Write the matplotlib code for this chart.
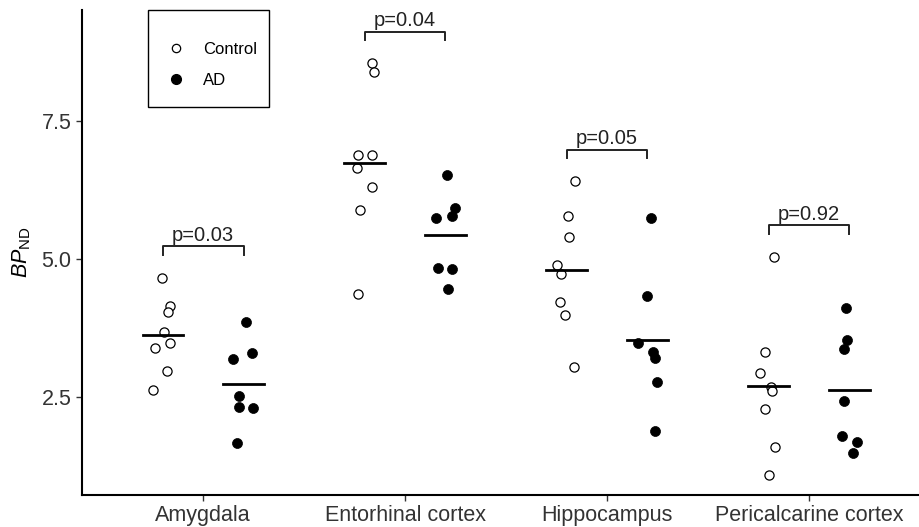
import matplotlib
matplotlib.use("Agg")
import matplotlib.pyplot as plt
from matplotlib.lines import Line2D
from matplotlib.patches import Rectangle
import numpy as np

plt.rcParams['font.family'] = ['Liberation Sans', 'DejaVu Sans']
plt.rcParams['mathtext.fontset'] = 'custom'
plt.rcParams['mathtext.rm'] = 'Liberation Sans'
plt.rcParams['mathtext.it'] = 'Liberation Sans:italic'

# regions and p-values
regions = ['Amygdala', 'Entorhinal cortex', 'Hippocampus', 'Pericalcarine cortex']
p_values = ['p=0.03', 'p=0.04', 'p=0.05', 'p=0.92']

# BPnd values
control = [
    [4.66, 4.14, 4.03, 3.67, 3.39, 3.48, 2.97, 2.63],
    [8.55, 8.39, 6.88, 6.88, 6.65, 6.30, 5.88, 4.37],
    [6.41, 5.78, 5.39, 4.89, 4.73, 4.22, 3.99, 3.05],
    [5.04, 3.32, 2.93, 2.68, 2.60, 2.28, 1.60, 1.09],
]
ad = [
    [3.85, 3.30, 3.18, 2.52, 2.31, 2.29, 1.66],
    [6.52, 5.93, 5.74, 5.77, 4.83, 4.82, 4.46],
    [5.75, 4.33, 3.47, 3.32, 3.20, 2.77, 1.89],
    [4.11, 3.53, 3.36, 2.43, 1.80, 1.69, 1.49],
]

# horizontal jitter of the points
control_jitter = [
    [-0.003, 0.034, 0.024, 0.005, -0.036, 0.037, 0.020, -0.050],
    [0.037, 0.045, -0.033, 0.034, -0.038, 0.034, -0.024, -0.033],
    [0.042, 0.009, 0.010, -0.049, -0.029, -0.031, -0.006, 0.039],
    [0.025, -0.016, -0.044, 0.014, 0.017, -0.016, 0.032, 0.000],
]
ad_jitter = [
    [0.010, 0.041, -0.051, -0.020, -0.020, 0.045, -0.030],
    [0.010, 0.046, -0.047, 0.030, -0.038, 0.033, 0.013],
    [0.016, 0.000, -0.045, 0.030, 0.036, 0.048, 0.036],
    [-0.015, -0.013, -0.028, -0.027, -0.037, 0.038, 0.018],
]

fig = plt.figure(figsize=(9.19, 5.27), dpi=100)
ax = fig.add_axes([0.0892, 0.061, 0.9108, 0.92])

off = 0.2
for i in range(len(regions)):
    x = i + 1
    xc = x - off + np.array(control_jitter[i])
    xa = x + off + np.array(ad_jitter[i])
    ax.plot(xc, control[i], 'o', ms=6.6, mfc='white', mec='black', mew=0.9, zorder=3)
    ax.plot(xa, ad[i], 'o', ms=7.2, mfc='black', mec='black', mew=0.5, zorder=3)
    # group means
    ax.plot([x - off - 0.1, x - off + 0.1], [np.mean(control[i])] * 2, color='black', lw=2.0, zorder=4)
    ax.plot([x + off - 0.1, x + off + 0.1], [np.mean(ad[i])] * 2, color='black', lw=2.0, zorder=4)
    # significance bracket
    top = max(max(control[i]), max(ad[i])) + 0.57
    ax.plot([x - off, x - off, x + off, x + off], [top - 0.15, top, top, top - 0.15],
            color='#222222', lw=1.4)
    ax.text(x, top + 0.03, p_values[i], ha='center', va='bottom', fontsize=14.5, color='#222222')

ax.set_xlim(0.4, 4.545)
ax.set_ylim(0.725, 9.51)
ax.set_xticks(range(1, len(regions) + 1))
ax.set_xticklabels(regions)
ax.set_yticks([2.5, 5.0, 7.5])
ax.set_yticklabels(['2.5', '5.0', '7.5'])
ax.tick_params(labelsize=15.5, labelcolor='#333333', color='#333333', length=4, width=1.0)
ax.set_ylabel(r'$BP_{\mathrm{ND}}$', fontsize=15.5, labelpad=6)

for s in ['top', 'right']:
    ax.spines[s].set_visible(False)
for s in ['left', 'bottom']:
    ax.spines[s].set_linewidth(1.5)

# legend: entries without frame, box drawn separately
handles = [
    Line2D([], [], ls='none', marker='o', ms=6, mfc='white', mec='black', mew=0.9),
    Line2D([], [], ls='none', marker='o', ms=7, mfc='black', mec='black'),
]
leg = ax.legend(handles, ['Control', 'AD'], loc='upper left', bbox_to_anchor=(0.1024, 0.934),
                fontsize=12, frameon=False, borderpad=0,
                handlelength=1.0, handletextpad=1.1, labelspacing=0.95, borderaxespad=0)
ax.add_patch(Rectangle((0.0789, 0.800), 0.1445, 0.199, transform=ax.transAxes,
                       fill=False, ec='black', lw=1.0, clip_on=False))

fig.savefig('out.png', dpi=100)
